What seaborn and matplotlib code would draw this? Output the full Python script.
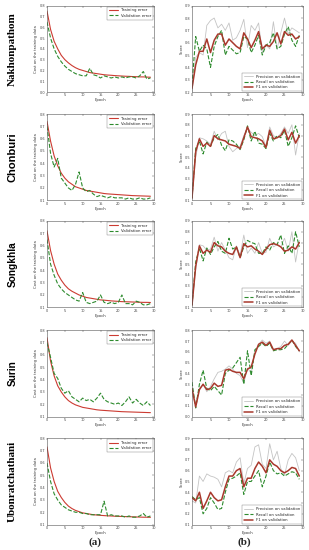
import matplotlib
matplotlib.use("Agg")
import matplotlib.pyplot as plt
import seaborn as sns

# epochs 0..29, values
epochs = list(range(30))
regions = ["Nakhonpathom", "Chonburi", "Songkhla", "Surin", "Ubonratchathani"]

# (a) cost curves
nak_train = [0.75, 0.58, 0.47, 0.40, 0.34, 0.30, 0.27, 0.245, 0.225, 0.21, 0.20, 0.19, 0.18, 0.175, 0.17,
             0.165, 0.16, 0.157, 0.155, 0.152, 0.15, 0.148, 0.146, 0.145, 0.143, 0.142, 0.14, 0.14, 0.138, 0.137]
nak_val = [0.65, 0.50, 0.40, 0.33, 0.28, 0.24, 0.21, 0.19, 0.17, 0.16, 0.15, 0.15, 0.22, 0.16, 0.15,
           0.13, 0.15, 0.14, 0.13, 0.14, 0.13, 0.14, 0.13, 0.14, 0.14, 0.13, 0.15, 0.19, 0.12, 0.13]
chon_train = [0.74, 0.58, 0.46, 0.38, 0.32, 0.28, 0.25, 0.23, 0.21, 0.20, 0.19, 0.18, 0.175, 0.17, 0.165,
              0.16, 0.155, 0.152, 0.15, 0.148, 0.146, 0.144, 0.142, 0.14, 0.138, 0.137, 0.136, 0.135, 0.134, 0.133]
chon_val = [0.70, 0.48, 0.37, 0.44, 0.28, 0.24, 0.20, 0.18, 0.23, 0.33, 0.20, 0.17, 0.18, 0.15, 0.13,
            0.14, 0.13, 0.12, 0.13, 0.12, 0.12, 0.12, 0.11, 0.12, 0.11, 0.11, 0.12, 0.11, 0.11, 0.12]
song_train = [0.72, 0.56, 0.45, 0.37, 0.32, 0.28, 0.25, 0.23, 0.215, 0.20, 0.19, 0.18, 0.175, 0.17, 0.165,
              0.16, 0.158, 0.155, 0.152, 0.15, 0.148, 0.146, 0.145, 0.144, 0.143, 0.142, 0.141, 0.14, 0.14, 0.139]
song_val = [0.65, 0.45, 0.36, 0.29, 0.25, 0.22, 0.20, 0.18, 0.16, 0.15, 0.22, 0.14, 0.13, 0.14, 0.15,
            0.20, 0.14, 0.13, 0.14, 0.13, 0.14, 0.20, 0.13, 0.13, 0.12, 0.15, 0.14, 0.12, 0.12, 0.13]
sur_train = [0.74, 0.55, 0.43, 0.35, 0.30, 0.26, 0.23, 0.21, 0.195, 0.185, 0.175, 0.17, 0.165, 0.16, 0.155,
             0.152, 0.15, 0.148, 0.146, 0.144, 0.142, 0.14, 0.139, 0.138, 0.137, 0.136, 0.135, 0.134, 0.133, 0.132]
sur_val = [0.70, 0.58, 0.45, 0.41, 0.33, 0.29, 0.31, 0.26, 0.24, 0.22, 0.25, 0.23, 0.24, 0.22, 0.25,
           0.29, 0.24, 0.22, 0.21, 0.20, 0.21, 0.19, 0.22, 0.26, 0.21, 0.24, 0.21, 0.19, 0.22, 0.19]
ubo_train = [0.73, 0.56, 0.45, 0.37, 0.32, 0.28, 0.25, 0.23, 0.215, 0.205, 0.195, 0.19, 0.185, 0.18, 0.178,
             0.175, 0.173, 0.171, 0.17, 0.168, 0.167, 0.166, 0.165, 0.164, 0.163, 0.162, 0.161, 0.16, 0.16, 0.159]
ubo_val = [0.60, 0.45, 0.35, 0.30, 0.26, 0.24, 0.22, 0.21, 0.20, 0.20, 0.19, 0.19, 0.18, 0.18, 0.18,
           0.18, 0.29, 0.17, 0.18, 0.17, 0.17, 0.17, 0.16, 0.17, 0.16, 0.16, 0.17, 0.19, 0.16, 0.17]

# (b) scores
nak_prec = [0.20, 0.48, 0.52, 0.50, 0.74, 0.78, 0.80, 0.72, 0.75, 0.70, 0.76, 0.62, 0.64, 0.70, 0.79,
            0.56, 0.74, 0.70, 0.76, 0.52, 0.58, 0.55, 0.77, 0.55, 0.68, 0.80, 0.67, 0.72, 0.70, 0.68]
nak_rec = [0.26, 0.65, 0.53, 0.58, 0.55, 0.40, 0.57, 0.65, 0.70, 0.50, 0.57, 0.54, 0.51, 0.52, 0.65,
           0.63, 0.52, 0.58, 0.66, 0.50, 0.58, 0.60, 0.68, 0.55, 0.57, 0.67, 0.73, 0.62, 0.57, 0.66]
nak_f1 = [0.23, 0.42, 0.53, 0.53, 0.63, 0.52, 0.62, 0.67, 0.67, 0.58, 0.63, 0.60, 0.57, 0.55, 0.68,
          0.63, 0.56, 0.62, 0.69, 0.55, 0.58, 0.57, 0.61, 0.68, 0.59, 0.69, 0.66, 0.67, 0.63, 0.65]
chon_prec = [0.12, 0.50, 0.68, 0.67, 0.65, 0.62, 0.74, 0.66, 0.72, 0.74, 0.60, 0.55, 0.58, 0.60, 0.70,
             0.77, 0.73, 0.70, 0.72, 0.69, 0.60, 0.78, 0.70, 0.68, 0.72, 0.78, 0.72, 0.80, 0.52, 0.72]
chon_rec = [0.12, 0.58, 0.65, 0.53, 0.64, 0.60, 0.68, 0.71, 0.61, 0.56, 0.66, 0.65, 0.62, 0.57, 0.66,
            0.79, 0.65, 0.74, 0.63, 0.62, 0.58, 0.72, 0.65, 0.70, 0.68, 0.75, 0.60, 0.68, 0.79, 0.68]
chon_f1 = [0.12, 0.55, 0.67, 0.60, 0.63, 0.60, 0.70, 0.67, 0.66, 0.65, 0.62, 0.61, 0.60, 0.58, 0.68,
           0.78, 0.69, 0.68, 0.67, 0.65, 0.59, 0.75, 0.67, 0.68, 0.70, 0.76, 0.66, 0.73, 0.63, 0.70]
song_prec = [0.12, 0.45, 0.68, 0.67, 0.63, 0.64, 0.75, 0.62, 0.70, 0.63, 0.56, 0.54, 0.67, 0.58, 0.77,
             0.60, 0.65, 0.60, 0.70, 0.60, 0.61, 0.74, 0.66, 0.68, 0.66, 0.74, 0.62, 0.80, 0.52, 0.72]
song_rec = [0.12, 0.52, 0.65, 0.53, 0.65, 0.59, 0.66, 0.71, 0.62, 0.60, 0.74, 0.64, 0.66, 0.56, 0.66,
            0.72, 0.70, 0.69, 0.60, 0.60, 0.66, 0.63, 0.70, 0.68, 0.77, 0.60, 0.67, 0.60, 0.80, 0.66]
song_f1 = [0.12, 0.48, 0.67, 0.60, 0.63, 0.61, 0.70, 0.67, 0.66, 0.62, 0.60, 0.59, 0.66, 0.56, 0.69,
           0.66, 0.67, 0.64, 0.62, 0.59, 0.64, 0.68, 0.69, 0.68, 0.66, 0.62, 0.63, 0.66, 0.64, 0.70]
sur_prec = [0.20, 0.12, 0.26, 0.30, 0.23, 0.28, 0.35, 0.41, 0.42, 0.44, 0.47, 0.44, 0.40, 0.38, 0.31,
            0.45, 0.40, 0.60, 0.67, 0.71, 0.68, 0.70, 0.62, 0.63, 0.65, 0.70, 0.66, 0.70, 0.68, 0.60]
sur_rec = [0.32, 0.08, 0.30, 0.43, 0.26, 0.24, 0.28, 0.24, 0.20, 0.40, 0.43, 0.45, 0.50, 0.55, 0.30,
           0.61, 0.38, 0.62, 0.65, 0.68, 0.65, 0.68, 0.61, 0.62, 0.62, 0.63, 0.67, 0.71, 0.65, 0.61]
sur_f1 = [0.26, 0.09, 0.25, 0.30, 0.25, 0.26, 0.31, 0.28, 0.29, 0.43, 0.44, 0.42, 0.41, 0.41, 0.35,
          0.44, 0.46, 0.58, 0.67, 0.69, 0.66, 0.69, 0.62, 0.63, 0.63, 0.66, 0.67, 0.71, 0.66, 0.61]
ubo_prec = [0.32, 0.30, 0.55, 0.50, 0.57, 0.55, 0.54, 0.52, 0.45, 0.58, 0.60, 0.58, 0.68, 0.72, 0.48,
            0.62, 0.65, 0.82, 0.84, 0.66, 0.62, 0.85, 0.70, 0.78, 0.62, 0.56, 0.70, 0.76, 0.72, 0.60]
ubo_rec = [0.36, 0.33, 0.35, 0.20, 0.25, 0.35, 0.30, 0.24, 0.25, 0.40, 0.52, 0.53, 0.55, 0.58, 0.38,
           0.50, 0.50, 0.55, 0.60, 0.45, 0.55, 0.68, 0.60, 0.57, 0.58, 0.55, 0.57, 0.59, 0.58, 0.52]
ubo_f1 = [0.35, 0.32, 0.40, 0.25, 0.32, 0.40, 0.35, 0.32, 0.33, 0.45, 0.55, 0.55, 0.60, 0.62, 0.45,
          0.53, 0.53, 0.62, 0.68, 0.64, 0.58, 0.70, 0.66, 0.64, 0.60, 0.58, 0.60, 0.63, 0.62, 0.55]

cost = [(nak_train, nak_val), (chon_train, chon_val), (song_train, song_val),
        (sur_train, sur_val), (ubo_train, ubo_val)]
scores = [(nak_prec, nak_rec, nak_f1), (chon_prec, chon_rec, chon_f1), (song_prec, song_rec, song_f1),
          (sur_prec, sur_rec, sur_f1), (ubo_prec, ubo_rec, ubo_f1)]

cost_ylim = [(0.0, 0.8), (0.1, 0.8), (0.1, 0.8), (0.1, 0.8), (0.1, 0.8)]
score_ylim = [(0.2, 0.9), (0.1, 0.9), (0.1, 0.9), (0.0, 0.8), (0.1, 0.9)]

sns.set_style("white")

W, H = 309, 550
fig = plt.figure(figsize=(W / 100, H / 100), dpi=100)


def px_axes(x0, y0, x1, y1):
    return fig.add_axes([x0 / W, 1 - y1 / H, (x1 - x0) / W, (y1 - y0) / H])


def style_ax(ax, ylim, ylabel):
    ax.set_xlim(0, 30)
    ax.set_ylim(*ylim)
    ax.set_xticks(range(0, 31, 5))
    lo, hi = ylim
    ticks = [round(lo + 0.1 * i, 1) for i in range(int(round((hi - lo) / 0.1)) + 1)]
    ax.set_yticks(ticks)
    ax.set_yticklabels([f"{t:.1f}" for t in ticks])
    ax.tick_params(direction="in", top=True, right=True, length=1.5, width=0.3,
                   labelsize=2.5, pad=1.0, colors="#444444")
    ax.set_xlabel("Epoch", fontsize=2.7, labelpad=0.6, color="#333333")
    ax.set_ylabel(ylabel, fontsize=2.7, labelpad=1.2, color="#333333")
    for s in ax.spines.values():
        s.set_linewidth(0.4)
        s.set_color("#555555")


def small_legend(ax, loc):
    leg = ax.legend(loc=loc, fontsize=2.8, frameon=True, fancybox=False, handlelength=2.4,
                    borderpad=0.45, labelspacing=0.35, handletextpad=0.7, borderaxespad=0.25)
    leg.get_frame().set_linewidth(0.3)
    leg.get_frame().set_edgecolor("#555555")


tops = [5.7, 114, 221, 330.3, 438.3]
row_h = 86.3
label_fonts = [("Liberation Serif", "bold", 8),
               ("Liberation Sans", "bold", 8),
               ("Liberation Sans", "bold", 7.3),
               ("Liberation Sans", "bold", 7.2),
               ("Liberation Serif", "bold", 8)]

for i, region in enumerate(regions):
    top = tops[i]
    # (a) cost on the training data
    ax = px_axes(47, top, 154, top + row_h)
    train, val = cost[i]
    sns.lineplot(x=epochs, y=train, ax=ax, color="#cc3b32", linewidth=0.8, label="Training error")
    sns.lineplot(x=epochs, y=val, ax=ax, color="#2e8b2e", linewidth=0.8, linestyle="--",
                 dashes=(3, 2), label="Validation error")
    style_ax(ax, cost_ylim[i], "Cost on the training data")
    small_legend(ax, "upper right")

    # (b) scores on validation
    ax = px_axes(192, top, 303, top + row_h)
    prec, rec, f1 = scores[i]
    sns.lineplot(x=epochs, y=prec, ax=ax, color="#c4c4c4", linewidth=0.6, label="Precision on validation")
    sns.lineplot(x=epochs, y=rec, ax=ax, color="#2e8b2e", linewidth=0.8, linestyle="--",
                 dashes=(3, 2), label="Recall on validation")
    sns.lineplot(x=epochs, y=f1, ax=ax, color="#a8382c", linewidth=1.1, label="F1 on validation")
    style_ax(ax, score_ylim[i], "Score")
    small_legend(ax, "lower right")

    fam, wt, sz = label_fonts[i]
    fig.text(12.5 / W, 1 - (top + row_h / 2) / H, region, rotation=90, ha="center", va="center",
             family=fam, weight=wt, fontsize=sz, color="black")

fig.text(95 / W, 1 - 542 / H, "(a)", ha="center", va="center", family="Liberation Serif",
         weight="bold", fontsize=8)
fig.text(244 / W, 1 - 542 / H, "(b)", ha="center", va="center", family="Liberation Serif",
         weight="bold", fontsize=8)

fig.savefig("out.png", dpi=100)
